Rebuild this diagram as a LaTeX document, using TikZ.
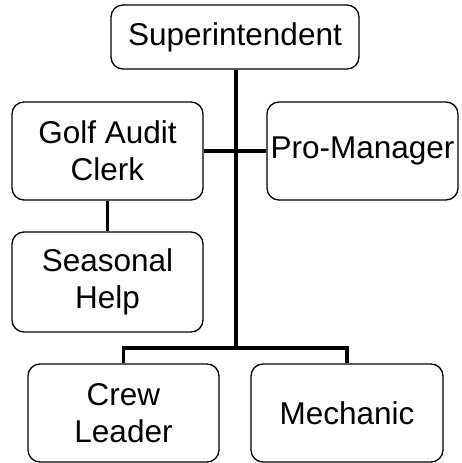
\documentclass[tikz,border=0pt]{standalone}
\usepackage{fontspec}
\setmainfont{Liberation Sans}
\begin{document}
\begin{tikzpicture}[x=1pt,y=-1pt,
  post/.style={draw=black,line width=1.3pt,rounded corners=12pt,fill=white,
    align=center,inner sep=0pt,font=\fontsize{31.5}{37}\selectfont},
  link/.style={line width=3.2pt,line cap=butt}]
  \useasboundingbox (0,0) rectangle (461,463);
  % staff positions
  \node[post,minimum width=248pt,minimum height=64pt] (sup) at (235,37) {Superintendent};
  \node[post,minimum width=191pt,minimum height=98pt] (gac) at (107.5,151) {Golf Audit\\Clerk};
  \node[post,minimum width=191pt,minimum height=98pt] (pro) at (362.5,151) {Pro-Manager};
  \node[post,minimum width=191pt,minimum height=100pt] (sea) at (107.5,282) {Seasonal\\Help};
  \node[post,minimum width=191pt,minimum height=98pt] (crew) at (123.5,413) {Crew\\Leader};
  \node[post,minimum width=192pt,minimum height=98pt] (mech) at (347,413) {Mechanic};
  % reporting lines
  \coordinate (split) at (236,348);
  \draw[link] (sup.south -| split) -- (split);
  \draw[link] (gac.east) -- (pro.west);
  \draw[link] (gac.south) -- (sea.north);
  \draw[link] (crew.north) |- (split) -| (mech.north);
\end{tikzpicture}
\end{document}
